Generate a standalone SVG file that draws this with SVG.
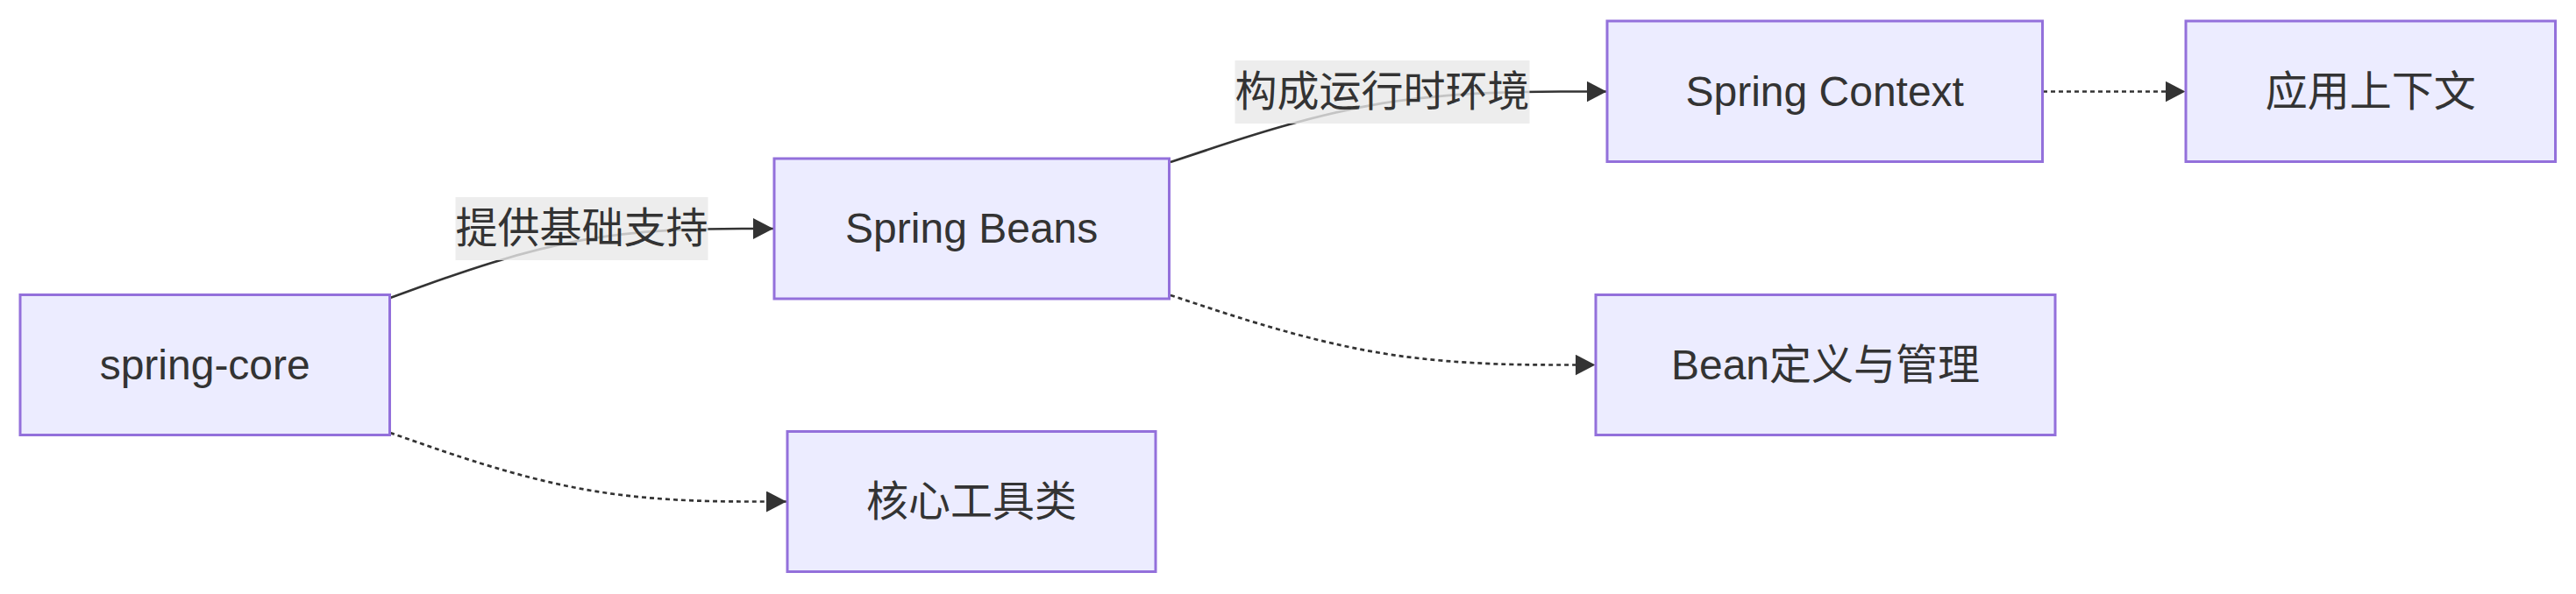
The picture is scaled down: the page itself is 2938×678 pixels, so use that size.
<svg xmlns="http://www.w3.org/2000/svg" width="2938" height="678" viewBox="0 0 2938 678">
<style>
.node rect{fill:#ECECFF;stroke:#9370DB;stroke-width:3}
.node text,.lbl text{font-family:"Liberation Sans","Noto Sans CJK SC",sans-serif;font-size:48px;fill:#333;text-anchor:middle}
.edge{fill:none;stroke:#333;stroke-width:2.7}
.dot{stroke-dasharray:5 4}
.lbl rect{fill:rgba(232,232,232,0.8)}
</style>
<defs>
<marker id="arr" viewBox="0 0 23 24" refX="23" refY="12" markerWidth="23" markerHeight="24" markerUnits="userSpaceOnUse" orient="auto">
<path d="M0,0 L23,12 L0,24 z" fill="#333"/>
</marker>
</defs>
<rect width="2938" height="678" fill="#fff"/>
<g id="connectors">
<path class="edge" marker-end="url(#arr)" d="M445,340 L481.4,326.8 C517.9,313.7 590.7,287.3 663.6,274.2 C736.4,261 809.2,261 845.6,261 L882,261"/>
<path class="edge dot" marker-end="url(#arr)" d="M445,494 L482.7,507.1 C520.3,520.2 595.7,546.3 671,559.4 C746.3,572.5 821.7,572.5 859.3,572.5 L897,572.5"/>
<path class="edge" marker-end="url(#arr)" d="M1335,185 L1375.3,171.6 C1415.7,158.2 1496.2,131.3 1576.5,117.9 C1660,104.5 1746.8,104.5 1789.8,104.5 L1832.5,104.5"/>
<path class="edge dot" marker-end="url(#arr)" d="M1335,337 L1375.3,350.3 C1415.7,363.5 1496.3,390 1577,403.3 C1657.8,416.5 1738.7,416.5 1779.1,416.5 L1819.5,416.5"/>
<path class="edge dot" marker-end="url(#arr)" d="M2330,104.5 L2492.5,104.5"/>
</g>
<g id="edge-labels">
<g class="lbl" id="label-core-beans"><rect x="519.5" y="225" width="288" height="72"/><text x="663.5" y="277">提供基础支持</text></g>
<g class="lbl" id="label-beans-context"><rect x="1408.5" y="69" width="336" height="72"/><text x="1576.5" y="121">构成运行时环境</text></g>
</g>
<g class="node" id="node-spring-core"><rect x="23" y="336.5" width="421.5" height="160"/><text x="233.7" y="432.5">spring-core</text></g>
<g class="node" id="node-spring-beans"><rect x="883" y="181" width="450.5" height="160"/><text x="1108.2" y="277">Spring Beans</text></g>
<g class="node" id="node-core-utils"><rect x="898" y="492.5" width="420" height="160"/><text x="1108" y="588.5">核心工具类</text></g>
<g class="node" id="node-spring-context"><rect x="1833" y="24" width="496.5" height="160.5"/><text x="2081.2" y="120.5">Spring Context</text></g>
<g class="node" id="node-app-context"><rect x="2493" y="24" width="421.5" height="160.5"/><text x="2703.7" y="120.5">应用上下文</text></g>
<g class="node" id="node-bean-def"><rect x="1820" y="336.5" width="524" height="160"/><text x="2082" y="432.5">Bean定义与管理</text></g>
</svg>
